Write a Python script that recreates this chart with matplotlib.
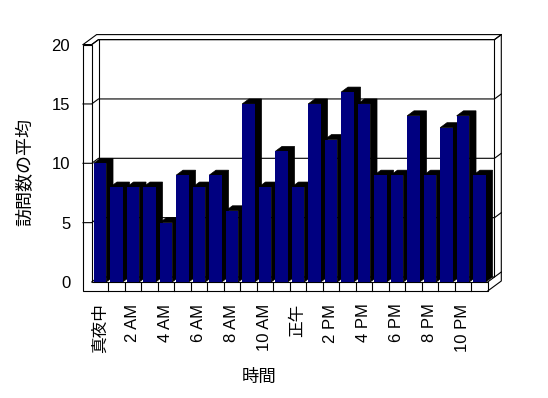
import matplotlib
matplotlib.use("Agg")
import matplotlib.pyplot as plt
from matplotlib.patches import Polygon

plt.rcParams['font.family'] = ['Liberation Sans', 'Noto Sans CJK JP']

# data
hours = list(range(24))
visits = [10, 8, 8, 8, 5, 9, 8, 9, 6, 15, 8, 11, 8, 15, 12, 16, 15, 9, 9, 14, 9, 13, 14, 9]
tick_labels = ['真夜中', '2 AM', '4 AM', '6 AM', '8 AM', '10 AM',
               '正午', '2 PM', '4 PM', '6 PM', '8 PM', '10 PM']
y_ticks = [0, 5, 10, 15, 20]

W, H = 548, 398
fig = plt.figure(figsize=(W / 100, H / 100), dpi=100)

# front plane of the plot box in pixels
left, right, bottom, top = 91.7, 487.7, 282, 44.6
ax = fig.add_axes([left / W, 1 - bottom / H, (right - left) / W, (bottom - top) / H])
n = len(hours)
ax.set_xlim(0, n)
ax.set_ylim(0, 20)
ax.patch.set_visible(False)
for s in ax.spines.values():
    s.set_visible(False)

# depth / wall sizes converted to data units
px_x = (right - left) / n
px_y = (bottom - top) / 20
dx, dy = 6.8 / px_x, 5.0 / px_y
wall = 8.7 / px_x
floor = 9.0 / px_y

navy = '#000080'
lw = 0.8
kw = dict(color='black', lw=lw, clip_on=False, zorder=2)

# front face of left wall + floor (L shape)
ax.add_patch(Polygon([(-wall, -floor), (-wall, 20), (0, 20), (0, 0), (n, 0), (n, -floor)],
                     closed=True, fc='white', ec='black', lw=lw, clip_on=False, zorder=1))
# top of left wall and back wall
ax.add_patch(Polygon([(-wall, 20), (-wall + 2 * dx, 20 + 2 * dy), (n + 2 * dx, 20 + 2 * dy),
                      (n + dx, 20 + dy), (dx, 20 + dy), (0, 20)],
                     closed=True, fc='white', ec='black', lw=lw, clip_on=False, zorder=1))
# right side of back wall / floor
ax.plot([n + 2 * dx, n + 2 * dx, n], [20 + 2 * dy, -floor + 2 * dy, -floor], **kw)
ax.plot([n, n + dx, n + dx], [0, dy, 20 + dy], **kw)
ax.plot([dx, dx], [dy, 20 + dy], **kw)

# floor cells
for k in range(1, n):
    ax.plot([k, k], [-floor, 0], **kw)

# gridlines wrapping around the walls
for v in y_ticks:
    xs = [0, dx, n + dx, n + 2 * dx]
    ys = [v, v + dy, v + dy, v + 2 * dy]
    if v > 0:
        xs = [-wall] + xs
        ys = [v] + ys
    ax.plot(xs, ys, **kw)

# bars
x0s = [h + 0.12 for h in hours]
bw = 0.76
for x0, v in zip(x0s, visits):
    x1 = x0 + bw
    ax.add_patch(Polygon([(x0, v), (x0 + dx, v + dy), (x1 + dx, v + dy), (x1 + dx, dy),
                          (x1, 0), (x1, v)], closed=True, fc='black', ec='black', lw=0.5,
                         clip_on=False, zorder=3))
ax.bar(x0s, visits, width=bw, align='edge', color=navy, lw=0, zorder=4)

# ticks and labels
ax.set_yticks(y_ticks)
ax.set_yticklabels([str(t) for t in y_ticks], fontsize=12)
ax.tick_params(axis='y', length=0, pad=15.5)
ax.set_xticks([h + 0.5 for h in hours[::2]])
ax.set_xticklabels(tick_labels, rotation=90, fontsize=12)
ax.tick_params(axis='x', length=0, pad=15.5)

ax.set_ylabel('訪問数の平均', fontsize=13)
ax.yaxis.set_label_coords((34 - left) / (right - left), (bottom - 172.5) / (bottom - top))
ax.set_xlabel('時間', fontsize=12.5)
ax.xaxis.set_label_coords((259 - left) / (right - left), (bottom - 369) / (bottom - top))

fig.savefig('out.png', dpi=100)
